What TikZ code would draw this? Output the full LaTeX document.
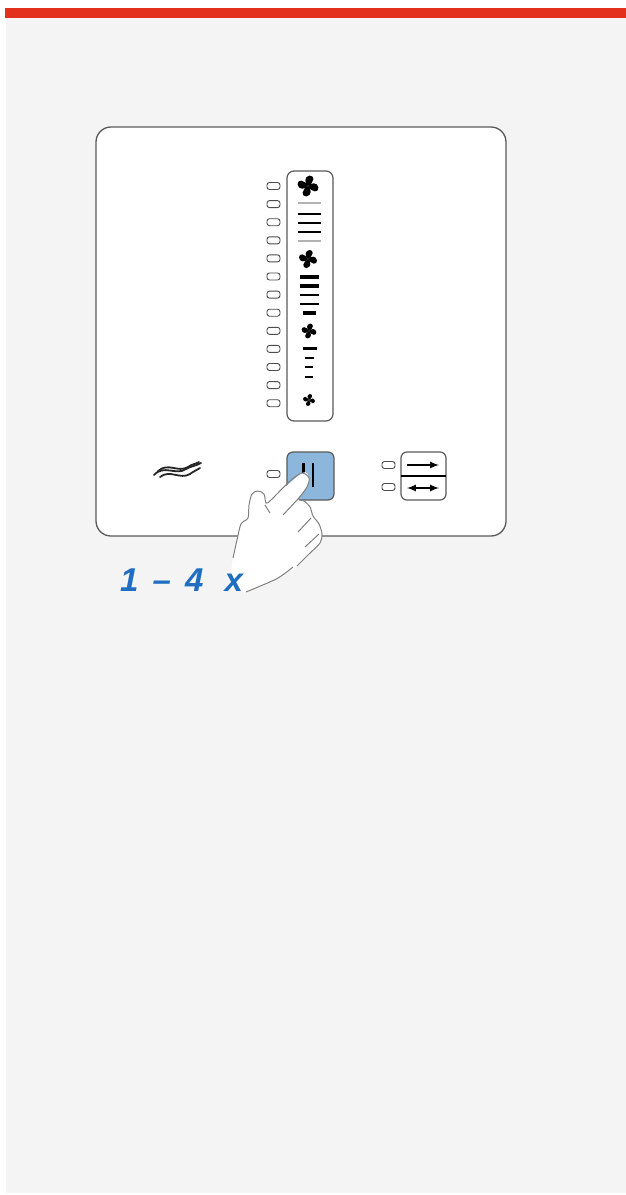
\documentclass[tikz,border=0pt]{standalone}
\usepackage{xcolor}
\usepackage{fontspec}
\usepackage{tikz}
\newfontfamily\labelfont{Liberation Sans}
\definecolor{BarRed}{HTML}{E3301C}
\definecolor{PageGray}{HTML}{F4F4F4}
\definecolor{KeyBlue}{HTML}{8DB6DD}
\definecolor{CountBlue}{HTML}{1F6EC1}
\definecolor{Frame}{HTML}{5A5A5A}

\tikzset{
  led/.style={draw=black!70, line width=.9pt, fill=white, rounded corners=2.5pt},
  key/.style={draw=Frame, line width=1.2pt, rounded corners=6pt},
  fan/.pic={
    \foreach \a in {0,90,180,270}
      \fill[rotate=\a] (0,0) .. controls (-3.5,-2.5) and (-3.5,-9) .. (1.5,-9.5)
        .. controls (6.5,-9.5) and (6,-3.5) .. (0,0);
  }
}

\begin{document}
\begin{tikzpicture}[x=1pt, y=-1pt]
\useasboundingbox (0,0) rectangle (626,1195);
\fill[white] (0,0) rectangle (626,1195);

  % page
\fill[PageGray] (6,17) rectangle (626,1193);
\fill[BarRed] (5,7.5) rectangle (626,17.5);

  % panel
\draw[Frame, line width=1.3pt, fill=white, rounded corners=15pt] (96,127) rectangle (506,536);

  % fan level column
\draw[key, fill=white, rounded corners=7pt] (287,171) rectangle (333,421);
\foreach \i in {0,...,12}
  \draw[led] (267,{182.5+18.1*\i}) rectangle (280,{189.5+18.1*\i});

\pic[scale=1.1] at (308,186) {fan};
\pic[scale=.95] at (308,259) {fan};
\pic[scale=.78] at (309,331) {fan};
\pic[scale=.62] at (309,400) {fan};

\draw[black!30, line width=1.3pt] (298,203) -- (321,203) (298,241) -- (321,241);
\foreach \y in {214,223,232}
  \draw[black, line width=1.3pt] (298,\y) -- (321,\y);
\foreach \y/\w in {277/3.5, 286/3.5, 295/2.4, 304/2.4}
  \draw[black, line width=\w pt] (300,\y) -- (319,\y);
\draw[black, line width=3.5pt] (303,313) -- (316,313);
\draw[black, line width=3pt] (303,348) -- (317,348);
\draw[black, line width=2.6pt] (305,358) -- (314,358);
\draw[black, line width=1.8pt] (305,367) -- (313,367) (305,377) -- (313,377);

  % heating symbol
\begin{scope}[black!85, line width=1.8pt, line cap=round]
  \draw (154,475) .. controls (164,464) and (176,476) .. (186,469) .. controls (191,466) and (196,466) .. (201,463);
  \draw (158,471) .. controls (168,462) and (178,473) .. (188,467) .. controls (192,464) and (196,464) .. (199,462);
  \draw (160,477) .. controls (170,469) and (180,480) .. (190,474) .. controls (194,471) and (197,470) .. (200,468);
\end{scope}

  % fan key
\draw[led] (267,470.5) rectangle (280,477.5);
\draw[key, fill=KeyBlue] (287,452) rectangle (334,500);
\draw[black, line width=3pt] (303.5,463) -- (303.5,487);
\draw[black, line width=2.6pt] (313,463) -- (313,487);

  % direction key
\draw[led] (382,461.5) rectangle (395,468.5);
\draw[led] (382,483.5) rectangle (395,490.5);
\draw[key, fill=white] (401,452) rectangle (446,500);
\draw[black, line width=1.2pt] (401,476) -- (446,476);
\draw[black, line width=2pt, -latex] (407,465) -- (439,465);
\draw[black, line width=2pt, latex-latex] (407,488) -- (439,488);

  % hand
\begin{scope}[line width=1pt, draw=black!50]
  \fill[white] plot[smooth cycle, tension=.5] coordinates
    {(302,473) (309,478) (307,487) (298,499) (304,501) (310,507) (313,516)
     (319,524) (322,534) (320,543) (309,554) (297,566) (278,578) (258,587)
     (244,592) (232,576) (233,557) (237,540) (241,524) (248,518) (249,505)
     (252,494) (258,491) (264,494) (266,503) (271,500)};
  \draw plot[smooth, tension=.5] coordinates
    {(233,558) (237,540) (241,524) (248,518) (249,505) (252,494) (258,491)
     (264,494) (266,503) (271,500) (290,481) (302,473) (309,478) (307,487)
     (298,499)};
  \draw plot[smooth, tension=.5] coordinates
    {(299,500) (304,501) (310,507) (313,516) (319,524) (322,534) (320,543)
     (309,554) (297,566)};
  \draw plot[smooth, tension=.6] coordinates {(293,567) (278,578) (258,587) (246,592)};
  \draw (298,499) -- (283,515);
  \draw (311,518) -- (298,532);
  \draw (319,534) -- (305,547);
  \draw (265,505) -- (270,513);
\end{scope}

  % press count
\node[text=CountBlue, font=\labelfont\bfseries\itshape\fontsize{33}{33}\selectfont,
  anchor=base west, inner sep=0pt] (count) at (120,591)
  {1\hspace{5pt} – \hspace{5pt}4\hspace{12pt} x};

\end{tikzpicture}
\end{document}
